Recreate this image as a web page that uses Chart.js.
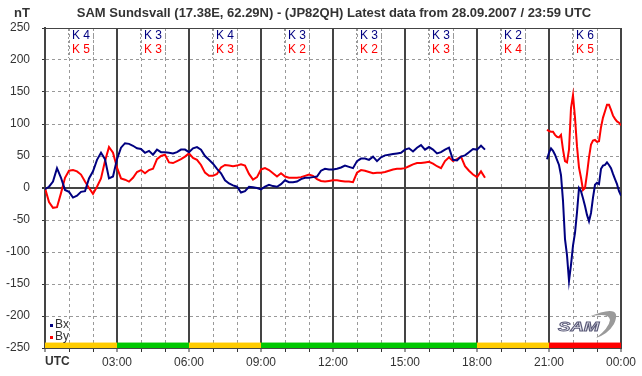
<!DOCTYPE html>
<html>
<head>
<meta charset="utf-8">
<script src="https://cdn.jsdelivr.net/npm/chart.js@4.4.0/dist/chart.umd.min.js"></script>
<style>
body{margin:0;background:#fff;}
#wrap{width:642px;height:376px;}
</style>
</head>
<body>
<div id="wrap"><canvas id="magneto" width="642" height="376"></canvas></div>
<script>
// Bx / By in nT, 10 minute samples from 00:00 (station went quiet after ~18:20)
var bx1 = [-2,2,10,31,16,-3,-6,-15,-12,-6,
  -5,15,26,44,55,45,15,18,45,63,
  70,69,66,62,61,55,58,52,60,56,
  56,55,54,56,60,60,56,62,64,60,
  50,44,38,30,23,12,7,4,2,-7,
  -5,2,1,0,-2,2,5,3,2,6,
  12,9,9,10,14,16,16,17,18,27,
  30,29,29,30,32,35,33,31,42,46,
  46,44,49,42,48,51,52,53,54,55,
  60,62,57,63,67,60,64,60,54,56,
  60,63,44,43,49,51,56,61,60,66,
  60];
var by1 = [0,-22,-31,-30,-8,16,27,28,26,21,
  10,0,-9,2,15,42,64,55,32,15,
  13,10,16,25,28,23,28,30,45,50,
  52,40,39,42,45,49,54,47,44,36,
  24,19,19,22,32,36,35,34,35,37,
  35,22,13,17,29,31,28,23,18,23,
  18,16,16,16,17,19,21,19,14,11,
  10,11,12,12,11,10,10,9,24,28,
  27,25,23,24,24,25,27,29,30,30,
  31,34,37,39,39,40,41,38,34,31,
  42,48,42,45,49,34,27,21,17,26,
  16];
// 5 minute samples from 20:55 to 24:00
var bx2 = [45,55,62,58,52,44,36,20,-20,-80,
  -105,-145,-120,-90,-70,-38,0,-5,-16,-28,
  -42,-52,-39,-15,5,8,6,30,35,36,
  40,36,31,22,14,6,-5,-12];
var by2 = [91,89,88,88,83,80,79,83,60,42,
  40,60,125,145,110,65,32,16,-3,0,
  22,48,68,74,75,72,73,95,110,120,
  130,130,122,113,108,104,102,98];

var kBx = [4,3,4,3,3,3,2,6];
var kBy = [5,3,3,2,2,3,4,5];
var hourLabels = ['UTC','03:00','06:00','09:00','12:00','15:00','18:00','21:00','00:00'];
var titel = 'SAM Sundsvall (17.38E, 62.29N) - (JP82QH) Latest data from 28.09.2007 / 23:59 UTC';

var FONT = '"Liberation Sans", Arial, sans-serif';
var BLAU = '#000080';
var ROT = '#ff0000';

function punkte(werte, startMin, schrittMin){
  return werte.map(function(v, i){ return {x: (startMin + i*schrittMin)/60, y: v}; });
}
var bxDaten = punkte(bx1, 0, 10).concat([{x: 19.5, y: null}], punkte(bx2, 1255, 5));
var byDaten = punkte(by1, 0, 10).concat([{x: 19.5, y: null}], punkte(by2, 1255, 5));

function kFarbe(k){
  if (k >= 6) return '#ff0000';
  if (k >= 4) return '#ffcc00';
  return '#00c800';
}

// alles was nicht Achse/Linie ist
var deko = {
  id: 'deko',
  beforeDatasetsDraw: function(chart){
    var c = chart.ctx, x = chart.scales.x, a = chart.chartArea;
    // K-Kaesten
    c.save();
    c.strokeStyle = '#999';
    c.lineWidth = 1;
    c.setLineDash([2,2]);
    for (var i = 0; i < 8; i++) {
      var m = Math.round(x.getPixelForValue(i*3 + 1.5));
      [m - 12.5, m + 12.5].forEach(function(px){
        c.beginPath(); c.moveTo(px, a.top + 1); c.lineTo(px, a.top + 30); c.stroke();
      });
    }
    c.restore();
  },
  afterDatasetsDraw: function(chart){
    var c = chart.ctx, x = chart.scales.x, y = chart.scales.y, a = chart.chartArea;
    c.save();
    // Aktivitaetsbalken
    for (var i = 0; i < 8; i++) {
      var k = Math.max(kBx[i], kBy[i]);
      var x0 = x.getPixelForValue(i*3), x1 = x.getPixelForValue(i*3 + 3);
      c.fillStyle = kFarbe(k);
      c.fillRect(x0, y.getPixelForValue(-241.5), x1 - x0, y.getPixelForValue(-250) - y.getPixelForValue(-241.5));
    }
    // K-Werte
    c.font = '12px ' + FONT;
    c.textAlign = 'center';
    c.textBaseline = 'middle';
    for (var j = 0; j < 8; j++) {
      var m = x.getPixelForValue(j*3 + 1.5);
      c.fillStyle = BLAU; c.fillText('K ' + kBx[j], m, a.top + 8);
      c.fillStyle = ROT; c.fillText('K ' + kBy[j], m, a.top + 22);
    }
    // Legende
    c.textAlign = 'left';
    c.font = '12px ' + FONT;
    chart.data.datasets.forEach(function(ds, n){
      var ly = a.bottom - 23 + n*12;
      c.fillStyle = ds.borderColor;
      c.fillRect(a.left + 5, ly - 1, 3, 3);
      c.fillStyle = '#333';
      c.fillText(ds.label, a.left + 10, ly);
    });
    // SAM Logo
    c.fillStyle = '#9a9a9a';
    c.beginPath();
    c.moveTo(588, 317);
    c.quadraticCurveTo(624, 302, 614, 324);
    c.quadraticCurveTo(608, 334, 596, 338);
    c.quadraticCurveTo(609, 328, 610, 320);
    c.quadraticCurveTo(609, 312, 588, 317);
    c.fill();
    c.translate(558, 331);
    c.scale(1.55, 1);
    c.font = 'italic bold 12px ' + FONT;
    c.lineWidth = 0.8;
    c.strokeStyle = '#5a5a78';
    c.fillStyle = '#e6e6ee';
    c.textBaseline = 'alphabetic';
    c.fillText('SAM', 0, 0);
    c.strokeText('SAM', 0, 0);
    c.restore();
  },
  afterDraw: function(chart){
    var c = chart.ctx, x = chart.scales.x, a = chart.chartArea;
    c.save();
    c.fillStyle = '#333';
    c.textBaseline = 'middle';
    c.font = 'bold 13px ' + FONT;
    c.textAlign = 'center';
    c.fillText(titel, (a.left + a.right)/2 + 1, 13);
    c.fillText('nT', 22, 13);
    c.font = 'bold 12px ' + FONT;
    c.textAlign = 'left';
    c.fillText(hourLabels[0], x.getPixelForValue(0), 362);
    c.restore();
  }
};

var diagramm = new Chart(document.getElementById('magneto').getContext('2d'), {
  type: 'line',
  data: {
    datasets: [
      {label: 'Bx', data: bxDaten, borderColor: BLAU, backgroundColor: BLAU, borderWidth: 2, pointRadius: 0, tension: 0, spanGaps: false},
      {label: 'By', data: byDaten, borderColor: ROT, backgroundColor: ROT, borderWidth: 2, pointRadius: 0, tension: 0, spanGaps: false}
    ]
  },
  options: {
    responsive: false,
    animation: false,
    layout: {padding: {top: 28, right: 21, left: 0, bottom: 0}},
    plugins: {legend: {display: false}, tooltip: {enabled: false}, title: {display: false}},
    scales: {
      x: {
        type: 'linear', min: 0, max: 24,
        afterFit: function(s){ s.height = 28; },
        ticks: {
          stepSize: 1, autoSkip: false, maxRotation: 0, padding: 3,
          color: '#333', font: {size: 12, family: FONT},
          callback: function(v){ return (v % 3 === 0 && v > 0) ? hourLabels[v/3] : ''; }
        },
        grid: {
          color: function(ctx){ return ctx.tick && ctx.tick.value % 3 === 0 ? '#444' : '#999'; },
          lineWidth: function(ctx){ return ctx.tick && ctx.tick.value % 3 === 0 ? 2 : 1; },
          tickLength: 4, tickColor: '#333', tickWidth: 1
        },
        border: {
          display: true, color: '#444', width: 2,
          dash: function(ctx){ return (ctx.tick && ctx.tick.value % 3 !== 0) ? [3,3] : []; }
        }
      },
      y: {
        min: -250, max: 250,
        afterFit: function(s){ s.width = 45; },
        ticks: {stepSize: 50, padding: 12, color: '#333', font: {size: 12, family: FONT}},
        grid: {
          color: function(ctx){ return ctx.tick && (ctx.tick.value === 0 || ctx.tick.value === 250) ? '#444' : '#999'; },
          lineWidth: function(ctx){ return ctx.tick && ctx.tick.value === 0 ? 2 : 1; },
          tickLength: 3, tickColor: '#333'
        },
        border: {
          display: true, color: '#444', width: 2,
          dash: function(ctx){ return (ctx.tick && ctx.tick.value !== 0 && ctx.tick.value !== 250) ? [3,3] : []; }
        }
      }
    }
  },
  plugins: [deko]
});
</script>
</body>
</html>
